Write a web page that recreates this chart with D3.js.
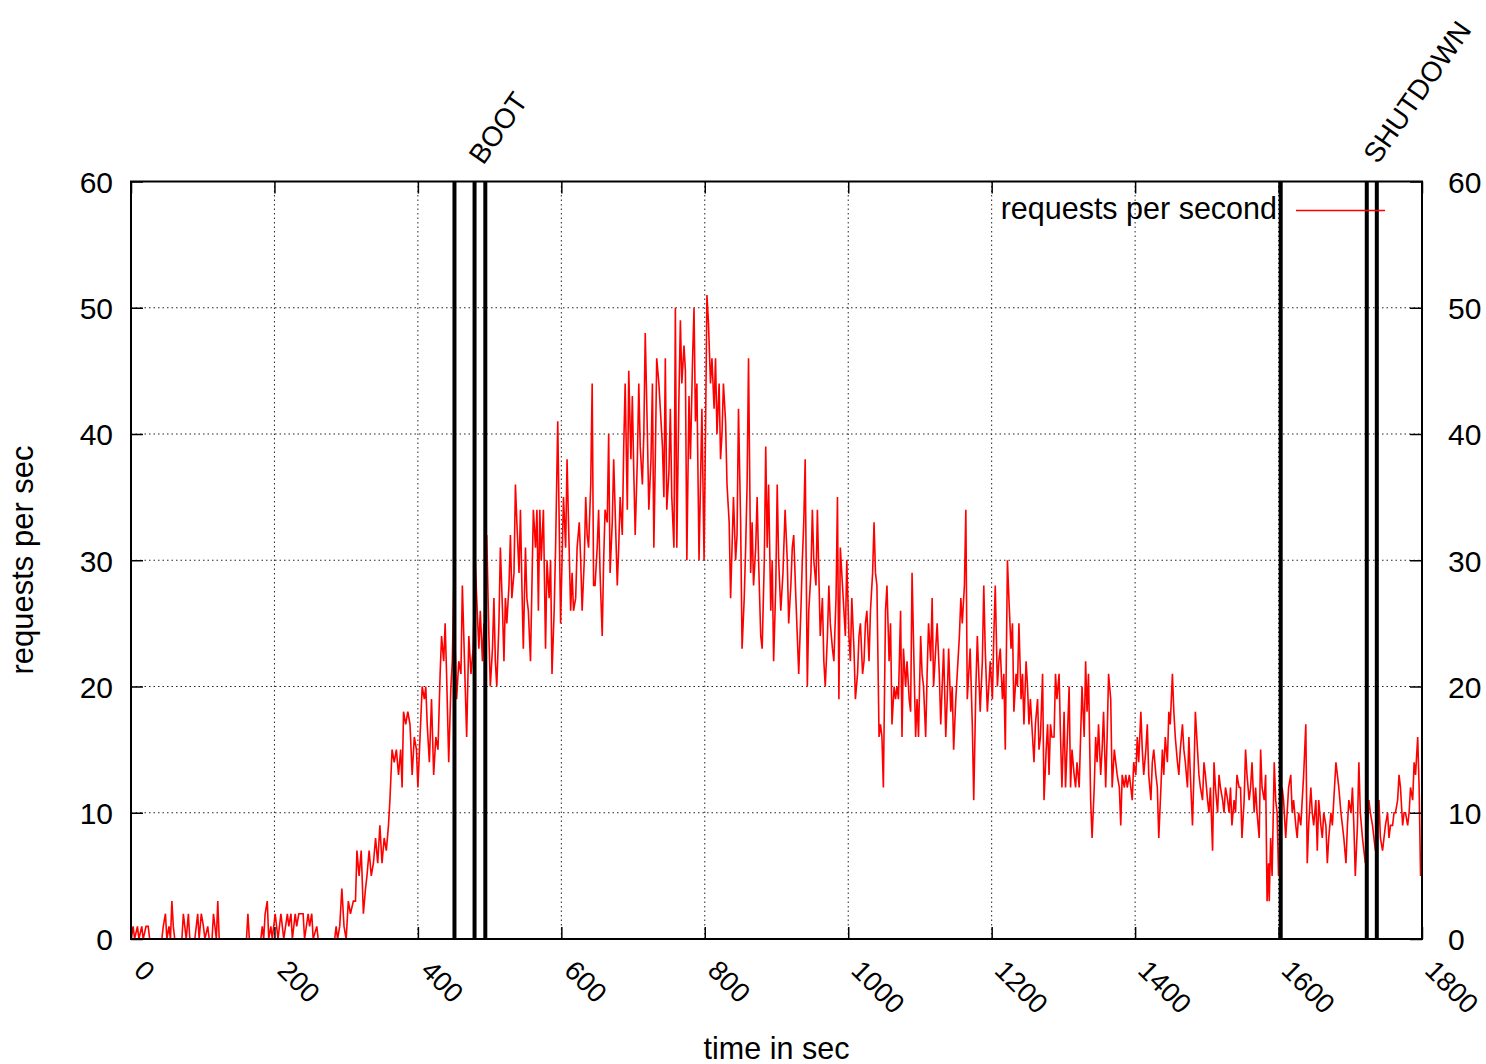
<!DOCTYPE html>
<html>
<head>
<meta charset="utf-8">
<script src="https://cdn.jsdelivr.net/npm/d3@7"></script>
<style>
  html, body { margin: 0; padding: 0; background: #ffffff; }
  svg text { font-family: "Liberation Sans", Arial, Helvetica, sans-serif; fill: #000; }
</style>
</head>
<body>
<svg id="chart" width="1486" height="1064"></svg>
<script>
// ---------------- data ----------------
const seconds = [
  0,3,5,9,11,15,17,21,24,26,
  43,45,48,50,53,55,57,59,61,71,
  73,75,77,80,82,89,91,93,95,98,
  101,103,107,109,113,115,117,119,121,123,
  161,163,165,181,183,185,187,190,192,195,
  197,201,203,205,209,211,213,218,220,223,
  225,229,231,234,240,242,247,249,252,254,
  259,261,284,286,288,291,294,297,300,303,
  306,310,313,315,318,321,324,327,329,332,
  335,338,341,344,347,350,353,356,359,361,
  364,367,370,373,376,378,380,383,386,389,
  392,395,398,400,403,406,409,411,413,416,
  419,422,425,428,431,433,436,438,440,443,
  446,448,450,452,454,457,460,462,465,468,
  471,474,477,480,482,485,487,490,492,494,
  496,499,501,504,506,508,510,513,515,518,
  520,522,524,527,529,531,534,536,538,541,
  543,545,547,550,552,554,557,559,561,564,
  566,568,570,572,575,578,580,583,585,587,
  590,592,595,597,599,601,603,606,608,610,
  613,615,617,620,622,625,627,629,632,634,
  636,638,641,643,645,647,650,652,654,657,
  659,661,664,666,668,671,673,676,678,680,
  682,685,687,689,692,694,697,699,701,703,
  706,708,710,713,715,717,720,722,725,727,
  729,731,733,736,738,741,743,745,747,750,
  752,754,757,759,761,764,766,768,771,773,
  775,778,780,783,785,787,789,792,794,796,
  799,801,803,805,808,810,813,815,817,820,
  822,824,826,829,831,834,836,838,840,843,
  845,847,850,852,855,857,859,861,864,866,
  868,871,873,875,878,880,883,885,887,889,
  892,894,896,899,901,903,906,909,912,915,
  917,920,922,924,927,929,931,934,936,938,
  940,943,945,948,950,952,955,957,959,961,
  964,966,968,971,973,975,978,980,983,985,
  987,989,992,994,996,998,1001,1003,1005,1008,
  1010,1013,1015,1017,1020,1022,1024,1026,1029,1031,
  1034,1036,1038,1040,1043,1045,1047,1049,1052,1054,
  1057,1059,1061,1064,1066,1068,1070,1073,1075,1077,
  1080,1082,1085,1087,1089,1092,1094,1096,1098,1101,
  1103,1105,1108,1110,1112,1115,1117,1119,1122,1124,
  1127,1129,1131,1133,1136,1138,1140,1143,1145,1147,
  1150,1152,1155,1157,1159,1162,1164,1166,1168,1170,
  1173,1175,1178,1180,1182,1184,1187,1189,1191,1194,
  1196,1198,1201,1203,1205,1208,1210,1212,1215,1217,
  1219,1222,1224,1227,1229,1231,1234,1236,1238,1241,
  1243,1245,1248,1250,1252,1254,1257,1259,1261,1264,
  1266,1268,1271,1273,1276,1278,1280,1282,1284,1287,
  1289,1291,1294,1296,1298,1301,1303,1305,1308,1310,
  1312,1315,1317,1319,1322,1324,1326,1329,1331,1333,
  1335,1338,1340,1343,1345,1347,1349,1352,1354,1356,
  1359,1361,1363,1366,1368,1371,1373,1375,1378,1380,
  1382,1385,1387,1389,1392,1394,1396,1398,1401,1403,
  1405,1408,1410,1412,1415,1417,1419,1422,1424,1426,
  1429,1431,1433,1436,1438,1440,1442,1445,1447,1449,
  1452,1454,1456,1459,1461,1463,1466,1468,1470,1473,
  1475,1477,1480,1482,1484,1487,1489,1491,1494,1496,
  1498,1501,1503,1505,1508,1510,1512,1515,1517,1519,
  1522,1524,1526,1529,1531,1533,1535,1538,1540,1542,
  1545,1547,1549,1552,1554,1556,1559,1561,1563,1566,
  1568,1570,1573,1575,1577,1580,1582,1584,1586,1587,
  1589,1591,1594,1596,1598,1600,1603,1605,1607,1610,
  1612,1614,1617,1619,1621,1624,1626,1628,1631,1633,
  1635,1638,1640,1642,1645,1647,1649,1652,1654,1656,
  1659,1661,1663,1666,1668,1670,1673,1675,1677,1680,
  1682,1684,1687,1689,1691,1694,1696,1698,1701,1703,
  1705,1707,1710,1712,1714,1717,1719,1721,1724,1726,
  1728,1731,1733,1735,1738,1740,1742,1745,1747,1749,
  1752,1754,1756,1759,1761,1763,1766,1768,1770,1773,
  1775,1777,1780,1782,1784,1787,1789,1791,1794,1796,
  1798,1800
];
const requests = [
  0,1,0,1,0,1,0,1,1,0,
  0,1,2,0,1,0,3,1,0,0,
  2,1,0,2,0,0,1,2,0,2,
  1,0,1,0,0,2,1,0,3,0,
  0,2,0,0,1,0,2,3,0,1,
  0,2,1,0,2,1,0,2,1,2,
  0,2,1,2,2,0,2,1,2,0,
  1,0,0,1,0,1,4,1,0,3,
  2,3,3,7,5,7,2,4,5,7,
  5,6,8,6,9,6,8,7,9,11,
  15,14,15,13,15,12,18,17,18,17,
  13,16,15,12,16,20,19,20,17,14,
  19,13,16,15,21,24,22,25,21,14,
  20,22,28,23,19,22,21,28,22,16,
  24,21,23,30,27,23,26,22,25,20,
  32,24,20,23,27,22,20,25,31,26,
  22,27,25,28,32,27,29,36,33,29,
  34,28,23,31,27,26,22,28,34,31,
  34,26,34,30,34,23,30,27,30,21,
  26,31,41,33,25,30,35,31,38,33,
  26,29,26,27,31,33,30,26,30,35,
  32,31,36,44,28,28,31,34,29,24,
  30,34,33,40,29,33,38,32,28,31,
  35,32,39,44,34,45,38,43,37,32,
  38,44,39,36,40,48,40,34,38,44,
  31,38,46,44,42,39,35,46,34,37,
  42,35,31,50,31,43,49,44,47,45,
  30,43,38,46,50,41,44,30,36,42,
  30,40,51,49,44,46,42,46,40,44,
  38,40,44,41,36,33,27,31,35,30,
  32,42,33,23,27,31,36,46,29,33,
  28,31,35,30,24,23,30,39,31,36,
  26,30,22,28,36,30,26,29,34,30,
  25,28,31,32,27,24,21,26,30,33,
  38,20,26,29,34,30,28,34,29,24,
  27,22,20,24,28,25,23,22,27,35,
  19,31,28,26,24,30,24,22,27,23,
  19,21,24,25,21,22,25,26,22,26,
  29,33,29,28,16,17,16,12,26,28,
  22,25,17,20,19,20,19,26,16,23,
  20,22,19,18,29,21,16,19,16,24,
  21,20,16,21,25,22,27,20,23,25,
  21,17,20,23,16,19,23,18,20,15,
  19,21,24,27,25,28,34,19,21,23,
  17,11,20,24,21,18,22,28,23,18,
  20,22,19,24,28,20,22,23,19,21,
  15,30,27,23,25,18,21,20,25,19,
  21,17,22,20,17,19,16,14,17,19,
  15,16,21,11,15,17,13,17,16,16,
  21,19,21,16,12,18,12,15,20,12,
  15,13,12,14,12,16,20,16,22,18,
  21,11,8,12,16,14,17,13,15,18,
  12,16,21,19,12,15,14,13,12,9,
  13,12,13,12,13,12,11,14,13,16,
  14,18,15,13,15,17,13,11,14,15,
  13,12,8,12,15,13,16,14,18,17,
  21,18,16,14,13,15,17,15,14,12,
  16,13,9,13,18,15,13,12,11,14,
  13,11,10,12,7,14,12,10,13,12,
  11,10,12,11,10,12,9,11,10,13,
  12,12,8,11,15,13,11,12,14,10,
  12,10,8,15,12,11,13,3,6,3,
  8,5,14,11,10,5,9,12,11,8,
  10,12,13,10,11,9,8,10,9,11,
  13,17,6,9,12,10,9,11,7,11,
  9,8,10,9,6,8,10,9,11,14,
  13,12,10,9,8,6,9,11,10,12,
  9,5,9,14,10,8,7,6,9,11,
  10,9,8,7,9,11,8,7,8,9,
  10,8,9,9,10,10,11,13,12,9,
  10,10,9,10,12,11,14,13,16,12,
  5,7
];
const bootEvents = [451, 479, 494];
const shutdownEvents = [1603, 1723, 1737];
const xTicks = [0, 200, 400, 600, 800, 1000, 1200, 1400, 1600, 1800];
const yTicks = [0, 10, 20, 30, 40, 50, 60];
const seriesName = "requests per second";
const xTitle = "time in sec";
const yTitle = "requests per sec";

// ---------------- layout ----------------
const plotL = 131, plotR = 1422, plotT = 181.5, plotB = 939;
const svg = d3.select("#chart");
const xScale = d3.scaleLinear().domain([0, 1800]).range([plotL, plotR]);
const yScale = d3.scaleLinear().domain([0, 60]).range([plotB, plotT]);
const FS = 30;

// grid (dotted)
const grid = svg.append("g").attr("class", "grid")
  .attr("stroke", "#000").attr("stroke-width", 1)
  .attr("stroke-dasharray", "1.5,3").attr("opacity", 0.85);
grid.selectAll("line.v").data(xTicks.filter(t => t > 0 && t < 1800)).join("line")
  .attr("class", "v")
  .attr("x1", d => xScale(d)).attr("x2", d => xScale(d))
  .attr("y1", plotB).attr("y2", plotT);
grid.selectAll("line.h").data(yTicks.filter(t => t > 0 && t < 60)).join("line")
  .attr("class", "h")
  .attr("x1", plotL).attr("x2", plotR)
  .attr("y1", d => yScale(d)).attr("y2", d => yScale(d));

// series
const pts = seconds.map((s, i) => [s, requests[i]]);
const lineGen = d3.line().x(d => xScale(d[0])).y(d => yScale(d[1]));
svg.append("path").datum(pts)
  .attr("d", lineGen)
  .attr("fill", "none")
  .attr("stroke", "#ff0000")
  .attr("stroke-width", 1.6)
  .attr("stroke-linejoin", "miter");

// event lines
const events = bootEvents.concat(shutdownEvents);
svg.append("g").selectAll("line").data(events).join("line")
  .attr("x1", d => xScale(d)).attr("x2", d => xScale(d))
  .attr("y1", plotB).attr("y2", plotT)
  .attr("stroke", "#000").attr("stroke-width", 4);

// axes
const fmt = d3.format("d");
function styleAxis(g, size) {
  g.select(".domain").remove();
  g.selectAll(".tick line").attr("stroke", "#000").attr("stroke-width", 1.5);
  g.selectAll(".tick text").attr("font-size", size).attr("fill", "#000")
    .style("font-family", '"Liberation Sans", Arial, sans-serif');
}
svg.append("g").attr("transform", `translate(${plotL},0)`)
  .call(d3.axisLeft(yScale).tickValues(yTicks).tickFormat(fmt).tickSizeInner(-12).tickSizeOuter(0).tickPadding(18))
  .call(styleAxis, FS)
  .selectAll(".tick text").attr("dy", "0.36em");
svg.append("g").attr("transform", `translate(${plotR},0)`)
  .call(d3.axisRight(yScale).tickValues(yTicks).tickFormat(fmt).tickSizeInner(-12).tickSizeOuter(0).tickPadding(26))
  .call(styleAxis, FS)
  .selectAll(".tick text").attr("dy", "0.36em");
svg.append("g").attr("transform", `translate(0,${plotT})`)
  .call(d3.axisTop(xScale).tickValues(xTicks).tickSizeInner(-12).tickSizeOuter(0).tickFormat(""))
  .call(styleAxis, FS);
const xb = svg.append("g").attr("transform", `translate(0,${plotB})`)
  .call(d3.axisBottom(xScale).tickValues(xTicks).tickFormat(fmt).tickSizeInner(-12).tickSizeOuter(0))
  .call(styleAxis, 27.5);
xb.selectAll(".tick text")
  .attr("x", 0).attr("y", 0).attr("dy", 0)
  .attr("text-anchor", "start")
  .attr("transform", "translate(1,33) rotate(45)");

// border
svg.append("rect")
  .attr("x", plotL).attr("y", plotT)
  .attr("width", plotR - plotL).attr("height", plotB - plotT)
  .attr("fill", "none").attr("stroke", "#000").attr("stroke-width", 2);

// event labels
svg.append("text")
  .attr("transform", `translate(${xScale(bootEvents[2]) - 2},166) rotate(-55)`)
  .attr("font-size", 28).text("BOOT");
svg.append("text")
  .attr("transform", `translate(${xScale(shutdownEvents[2]) + 1},165) rotate(-55)`)
  .attr("font-size", 28).text("SHUTDOWN");

// legend
svg.append("text")
  .attr("x", 1277).attr("y", 219)
  .attr("text-anchor", "end").attr("font-size", 30.5)
  .text(seriesName);
svg.append("line")
  .attr("x1", 1296).attr("x2", 1385).attr("y1", 210.5).attr("y2", 210.5)
  .attr("stroke", "#ff0000").attr("stroke-width", 1.5);

// axis titles
svg.append("text")
  .attr("x", (plotL + plotR) / 2).attr("y", 1059)
  .attr("text-anchor", "middle").attr("font-size", 30.5)
  .text(xTitle);
svg.append("text")
  .attr("transform", "translate(33,560) rotate(-90)")
  .attr("text-anchor", "middle").attr("font-size", 31)
  .text(yTitle);
</script>
</body>
</html>
